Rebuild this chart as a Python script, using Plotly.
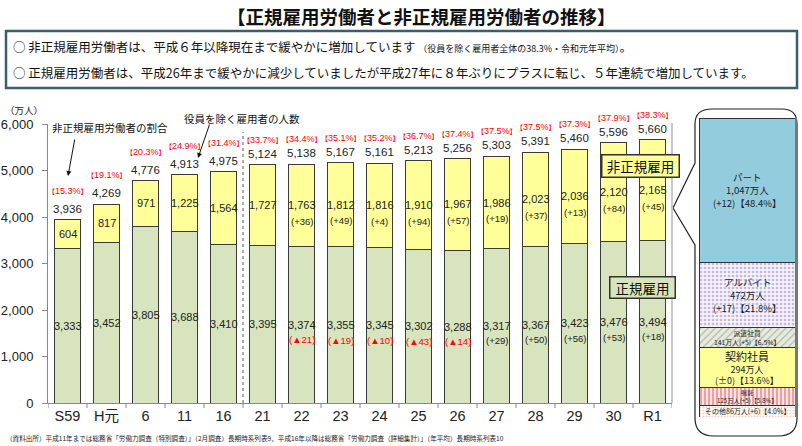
import plotly.graph_objects as go

W, H = 802, 446
JP = "Noto Sans CJK JP"
NUM = "Liberation Sans, Arial, Noto Sans CJK JP"

# ---------------- data ----------------
categories = ["S59", "H元", "6", "11", "16", "21", "22", "23", "24", "25", "26", "27", "28", "29", "30", "R1"]
regular = [3333, 3452, 3805, 3688, 3410, 3395, 3374, 3355, 3345, 3302, 3288, 3317, 3367, 3423, 3476, 3494]
nonregular = [604, 817, 971, 1225, 1564, 1727, 1763, 1812, 1816, 1910, 1967, 1986, 2023, 2036, 2120, 2165]
totals = [3936, 4269, 4776, 4913, 4975, 5124, 5138, 5167, 5161, 5213, 5256, 5303, 5391, 5460, 5596, 5660]
nonregular_ratio = [15.3, 19.1, 20.3, 24.9, 31.4, 33.7, 34.4, 35.1, 35.2, 36.7, 37.4, 37.5, 37.5, 37.3, 37.9, 38.3]
regular_change = [None, None, None, None, None, None, -21, -19, -10, -43, -14, 29, 50, 56, 53, 18]
nonregular_change = [None, None, None, None, None, None, 36, 49, 4, 94, 57, 19, 37, 13, 84, 45]
y_ticks = [0, 1000, 2000, 3000, 4000, 5000, 6000]

breakdown_labels = ["パート", "アルバイト", "派遣社員", "契約社員", "嘱託", "その他"]
breakdown_values = [1047, 472, 141, 294, 125, 86]
breakdown_change = ["+12", "+17", "+5", "±0", "+5", "+6"]
breakdown_share = [48.4, 21.8, 6.5, 13.6, 5.8, 4.0]


def px(x, y):
    return x / W, 1 - y / H


fig = go.Figure()
idx = list(range(len(categories)))

# main stacked bars
fig.add_trace(go.Bar(x=idx, y=regular, marker=dict(color="#D7E4BD", line=dict(color="#3a3a3a", width=1)),
                     hoverinfo="skip", showlegend=False))
fig.add_trace(go.Bar(x=idx, y=nonregular, marker=dict(color="#FFFF99", line=dict(color="#3a3a3a", width=1)),
                     hoverinfo="skip", showlegend=False))

# breakdown bar (bottom to top)
styles = {
    "パート": dict(color="#93CDDD"),
    "アルバイト": dict(color="#F6F2FB", pattern=dict(shape=".", fgcolor="#8F80C0", bgcolor="#F6F2FB", size=4, solidity=0.35)),
    "派遣社員": dict(color="#E6EADF", pattern=dict(shape="/", fgcolor="#7D8A70", bgcolor="#E6EADF", size=5, solidity=0.25)),
    "契約社員": dict(color="#FFFF99"),
    "嘱託": dict(color="#FBE6E6", pattern=dict(shape="|", fgcolor="#E04848", bgcolor="#FBE6E6", size=4, solidity=0.45)),
    "その他": dict(color="#FFFFFF", pattern=dict(shape=".", fgcolor="#E3A47C", bgcolor="#FFFFFF", size=3, solidity=0.3)),
}
for lab, val in reversed(list(zip(breakdown_labels, breakdown_values))):
    m = dict(styles[lab])
    m["line"] = dict(color="#333333", width=1)
    fig.add_trace(go.Bar(x=[0], y=[val], width=1, marker=m, xaxis="x2", yaxis="y2",
                         hoverinfo="skip", showlegend=False))

ann = []


def A(**kw):
    kw.setdefault("showarrow", False)
    kw.setdefault("xanchor", "center")
    kw.setdefault("yanchor", "middle")
    ann.append(kw)


BR = "<span style='font-size:7px'>{}</span>"
# totals and ratios
for i in idx:
    A(x=i, y=totals[i], xref="x", yref="y", text=f"{totals[i]:,}", yshift=11,
      font=dict(family=NUM, size=11.5, color="#222"))
    A(x=i, y=totals[i], xref="x", yref="y",
      text=BR.format("【") + f"{nonregular_ratio[i]}%" + BR.format("】"),
      yshift=(29 if i < 5 else 25), font=dict(family=NUM, size=9, color="#FF0000"))
    mid_n = regular[i] + nonregular[i] / 2
    A(x=i, y=mid_n, xref="x", yref="y", text=f"{nonregular[i]:,}", font=dict(family=NUM, size=11, color="#222"))
    if nonregular_change[i] is not None:
        A(x=i, y=mid_n, xref="x", yref="y", text=f"(+{nonregular_change[i]})", yshift=-16,
          font=dict(family=NUM, size=9.5, color="#222"))
    mid_r = regular[i] / 2
    A(x=i, y=mid_r, xref="x", yref="y", text=f"{regular[i]:,}", font=dict(family=NUM, size=11, color="#222"))
    ch = regular_change[i]
    if ch is not None:
        if ch < 0:
            t, col = f"(▲{-ch})", "#FF0000"
        else:
            t, col = f"(+{ch})", "#222"
        A(x=i, y=mid_r, xref="x", yref="y", text=t, yshift=-15, font=dict(family=NUM, size=9.5, color=col))

# breakdown labels
cum = 0
mids = {}
for lab, val in reversed(list(zip(breakdown_labels, breakdown_values))):
    mids[lab] = cum + val / 2
    cum += val
bd = {l: (v, c, s) for l, v, c, s in zip(breakdown_labels, breakdown_values, breakdown_change, breakdown_share)}
for lab in breakdown_labels:
    v, c, s = bd[lab]
    if lab in ("パート", "アルバイト"):
        lines = [lab, f"{v:,}万人", f"({c})【{s}%】"]
        f = dict(family=JP, size=9.5, color="#222")
        step = 13
        for k, ln in enumerate(lines):
            A(x=0, y=mids[lab], xref="x2", yref="y2", text=ln, font=f, yshift=step * (1 - k))
        continue
    elif lab == "契約社員":
        txt = f"<span style='font-size:11px'>{lab}</span><br>{v:,}万人<br>({c})【{s}%】"
        f = dict(family=JP, size=9, color="#222")
    elif lab == "派遣社員":
        txt = f"{lab}<br>{v:,}万人({c})【{s}%】"
        f = dict(family=JP, size=6.8, color="#222")
    elif lab == "嘱託":
        txt = f"{lab}<br>{v:,}万人({c})【{s}%】"
        f = dict(family=JP, size=6.2, color="#222")
    else:
        txt = f"{lab}{v:,}万人({c})【{s}%】"
        f = dict(family=JP, size=7, color="#222")
    A(x=0, y=mids[lab], xref="x2", yref="y2", text=txt, font=f)

# title & text box
x, y = px(421, 16)
A(x=x, y=y, xref="paper", yref="paper", text="<b>【正規雇用労働者と非正規雇用労働者の推移】</b>",
  font=dict(family=JP, size=18.5, color="#111"))
x, y = px(11, 47)
A(x=x, y=y, xref="paper", yref="paper", xanchor="left",
  text="○ 非正規雇用労働者は、平成６年以降現在まで緩やかに増加しています "
       "<span style='font-size:9px'>（役員を除く雇用者全体の38.3%・令和元年平均）</span>。",
  font=dict(family=JP, size=12.5, color="#111"))
x, y = px(11, 72)
A(x=x, y=y, xref="paper", yref="paper", xanchor="left",
  text="○ 正規雇用労働者は、平成26年まで緩やかに減少していましたが平成27年に８年ぶりにプラスに転じ、５年連続で増加しています。",
  font=dict(family=JP, size=12.5, color="#111"))

# unit
x, y = px(24, 110)
A(x=x, y=y, xref="paper", yref="paper", text="（万人）", font=dict(family=JP, size=9.5, color="#222"))

# annotations with arrows
x, y = px(110, 128)
A(x=x, y=y, xref="paper", yref="paper", text="非正規雇用労働者の割合", font=dict(family=JP, size=10.5, color="#111"))
x, y = px(68, 176)
A(x=x, y=y, xref="paper", yref="paper", text="", showarrow=True, ax=7, ay=-38,
  arrowhead=2, arrowsize=1, arrowwidth=1, arrowcolor="#111")
x, y = px(242, 118)
A(x=x, y=y, xref="paper", yref="paper", text="役員を除く雇用者の人数", font=dict(family=JP, size=10.5, color="#111"))
x, y = px(198, 158)
A(x=x, y=y, xref="paper", yref="paper", text="", showarrow=True, ax=12, ay=-35,
  arrowhead=2, arrowsize=1, arrowwidth=1, arrowcolor="#111")

# label boxes
x, y = px(640, 166)
A(x=x, y=y, xref="paper", yref="paper", text="非正規雇用",
  bgcolor="#FFFF99", bordercolor="#333", borderwidth=1.5, borderpad=2, width=72, height=17,
  font=dict(family=JP, size=13.5, color="#111"))
x, y = px(642, 287)
A(x=x, y=y, xref="paper", yref="paper", text="正規雇用",
  bgcolor="#D7E4BD", bordercolor="#333", borderwidth=1.5, borderpad=2, width=60, height=16,
  font=dict(family=JP, size=13.5, color="#111"))

# footer
x, y = px(4, 438)
A(x=x, y=y, xref="paper", yref="paper", xanchor="left",
  text="（資料出所）平成11年までは総務省「労働力調査（特別調査）」（2月調査）長期時系列表9、平成16年以降は総務省「労働力調査（詳細集計）」（年平均）長期時系列表10",
  font=dict(family=JP, size=6.6, color="#222"))

# ---------------- shapes ----------------
shapes = []
x0, y0 = px(6, 31)
x1, y1 = px(797, 88)
shapes.append(dict(type="rect", xref="paper", yref="paper", x0=x0, y0=y1, x1=x1, y1=y0,
                   line=dict(color="#3B5E6B", width=2.5), fillcolor="rgba(0,0,0,0)", layer="below"))


def P(xx, yy):
    a, b = px(xx, yy)
    return f"{a:.5f},{b:.5f}"


path = (f"M {P(712,109)} L {P(782,109)} Q {P(797,109)} {P(797,124)} L {P(797,418)} "
        f"Q {P(797,436)} {P(778,436)} L {P(714,436)} Q {P(695,436)} {P(695,418)} "
        f"L {P(695,245)} L {P(673,208)} L {P(695,163)} L {P(695,124)} Q {P(695,109)} {P(712,109)} Z")
shapes.append(dict(type="path", xref="paper", yref="paper", path=path,
                   line=dict(color="#222", width=1.2), fillcolor="rgba(0,0,0,0)"))

# dashed separator between 16 and 21
shapes.append(dict(type="line", xref="x", yref="y", x0=4.5, x1=4.5, y0=0, y1=5830,
                   line=dict(color="#555", width=1, dash="dot")))
# plot-area right border (gray)
gx, gy0 = px(672, 123)
_, gy1 = px(672, 403)
shapes.append(dict(type="line", xref="paper", yref="paper", x0=gx, x1=gx, y0=gy1, y1=gy0,
                   line=dict(color="#C8C8C8", width=2)))
# shadow on breakdown bar right edge
sx, sy0 = px(796, 118)
_, sy1 = px(796, 417)
shapes.append(dict(type="line", xref="paper", yref="paper", x0=sx, x1=sx, y0=sy1, y1=sy0,
                   line=dict(color="#777", width=2)))

xd0, _ = px(48, 0)
xd1, _ = px(672, 0)
_, yd0 = px(0, 403)
_, yd1 = px(0, 124)
bx0, _ = px(699, 0)
bx1, _ = px(795, 0)
_, by0 = px(0, 417)
_, by1 = px(0, 118)

fig.update_layout(
    width=W, height=H, margin=dict(l=0, r=0, t=0, b=0, pad=0), autosize=False,
    paper_bgcolor="white", plot_bgcolor="rgba(0,0,0,0)",
    barmode="stack", bargap=0.333, showlegend=False,
    font=dict(family=JP),
    xaxis=dict(domain=[xd0, xd1], range=[-0.5, 15.5], tickmode="array", tickvals=idx, ticktext=categories,
               showline=True, linecolor="#888", linewidth=1, automargin=False,
               tickfont=dict(family=NUM, size=14.5, color="#222"), showgrid=False, zeroline=False, fixedrange=True),
    yaxis=dict(domain=[yd0, yd1], range=[0, 6000], tickvals=y_ticks, automargin=False,
               ticktext=[f"{v:,}" for v in y_ticks], showline=True, linecolor="#888", linewidth=1,
               ticks="outside", ticklen=5, tickcolor="#888", ticklabelstandoff=6,
               tickfont=dict(family=NUM, size=13, color="#222"), showgrid=False, zeroline=False),
    xaxis2=dict(domain=[bx0, bx1], range=[-0.5, 0.5], visible=False, anchor="y2", automargin=False),
    yaxis2=dict(domain=[by0, by1], range=[0, sum(breakdown_values)], visible=False, anchor="x2", automargin=False),
    annotations=ann, shapes=shapes,
)

# category boundary ticks on the x axis
for b in [i + 0.5 for i in range(-1, len(categories))]:
    fig.add_shape(type="line", xref="x", yref="paper", x0=b, x1=b, y0=yd0, y1=yd0 - 5 / H,
                  line=dict(color="#888", width=1))

fig.write_html("out.html", config={"displayModeBar": False},
               post_script="document.body.style.margin='0';document.body.style.overflow='hidden';")
